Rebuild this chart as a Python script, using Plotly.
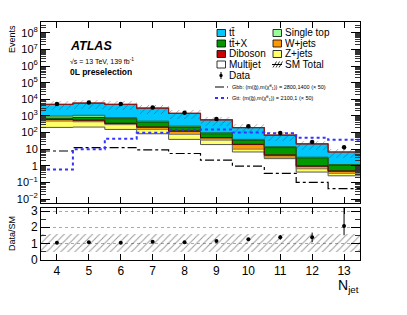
import numpy as np
import plotly.graph_objects as go

# ---------------- data ----------------
njet = [4, 5, 6, 7, 8, 9, 10, 11, 12, 13]
tick_labels_x = ["4", "5", "6", "7", "8", "9", "10", "11", "12", "13"]

multijet = [205, 215, 155, 85, 39, 19, 6.8, 2.7, 0.42, 0.25]
zjets = [285, 235, 145, 70, 39, 16, 3.2, 0.6, 0.24, 0.10]
wjets = [120, 100, 55, 55, 42, 13, 9.0, 1.0, 0.27, 0.12]
diboson = [20, 15, 10, 6, 4, 2, 0.8, 0.2, 0.05, 0.02]
ttx = [120, 265, 325, 214, 91, 35, 15.2, 8.0, 2.02, 0.61]
singletop = [230, 270, 100, 60, 30, 12, 4.0, 1.5, 0.3, 0.1]
ttbar = [4020, 4900, 4210, 2510, 1205, 493, 161, 56, 17.7, 5.6]

data = [5200, 6400, 5300, 3300, 1550, 660, 245, 94, 27, 13]
data_err = [72, 80, 73, 57, 39, 26, 16, 10, 5.2, 3.6]

ratio = [1.04, 1.06, 1.04, 1.10, 1.06, 1.14, 1.25, 1.37, 1.37, 2.08]
ratio_err_up = [0.02, 0.02, 0.02, 0.02, 0.03, 0.05, 0.08, 0.15, 0.3, 1.4]
ratio_err_dn = [0.02, 0.02, 0.02, 0.02, 0.03, 0.05, 0.08, 0.15, 0.3, 0.58]

sm_unc_up = [0.55] * 10
sm_unc_dn = [0.55] * 10

gbb = [7.8, 12.5, 12.5, 9.0, 5.5, 2.2, 0.95, 0.35, 0.10, 0.042]
gtt = [0.6, 10, 43, 98, 150, 155, 100, 90, 49, 37]

# ---------------- style ----------------
FONT = "Liberation Sans"
C_TTBAR = "#00c8ff"
C_TTX = "#009900"
C_ST = "#99ff99"
C_DIB = "#cc0000"
C_W = "#ff9900"
C_Z = "#ffff66"
C_MJ = "#ffffff"

layers = [  # bottom -> top
    ("Multijet", multijet, C_MJ, "#555555"),
    ("Z+jets", zjets, C_Z, "#777777"),
    ("W+jets", wjets, C_W, "#333333"),
    ("Diboson", diboson, C_DIB, "#660000"),
    ("ttX", ttx, C_TTX, "#114411"),
    ("Single top", singletop, C_ST, "#226622"),
    ("ttbar", ttbar, C_TTBAR, "#8b1a1a"),
]

x = np.array(njet, dtype=float)
edges = np.append(x - 0.5, x[-1] + 0.5)

fig = go.Figure()

cum = np.cumsum([np.array(l[1], dtype=float) for l in layers], axis=0)
total = cum[-1]

for i in reversed(range(len(layers))):
    name, vals, col, lcol = layers[i]
    fig.add_trace(go.Bar(x=x, y=cum[i], width=1.0, marker=dict(color=col, line=dict(width=0)),
                         xaxis="x", yaxis="y", showlegend=False, hoverinfo="skip"))
for i in range(len(layers)):
    name, vals, col, lcol = layers[i]
    ystep = np.append(cum[i], cum[i][-1])
    fig.add_trace(go.Scatter(x=edges, y=ystep, mode="lines", line=dict(color=lcol, width=1, shape="hv"),
                             xaxis="x", yaxis="y", showlegend=False, hoverinfo="skip"))

lo = total * (1 - np.array(sm_unc_dn))
hi = total * (1 + np.array(sm_unc_up))
fig.add_trace(go.Bar(x=x, y=hi - lo, base=lo, width=1.0,
                     marker=dict(color="rgba(0,0,0,0)", line=dict(width=0),
                                 pattern=dict(shape="/", fgcolor="#222222", bgcolor="rgba(0,0,0,0)", size=5, solidity=0.15)),
                     xaxis="x", yaxis="y", showlegend=False, hoverinfo="skip"))
fig.add_trace(go.Scatter(x=edges, y=np.append(total, total[-1]), mode="lines",
                         line=dict(color="#8b1a1a", width=1.2, shape="hv"),
                         xaxis="x", yaxis="y", showlegend=False, hoverinfo="skip"))

fig.add_trace(go.Scatter(x=edges, y=np.append(gbb, gbb[-1]), mode="lines",
                         line=dict(color="black", width=1.2, shape="hv", dash="dashdot"),
                         xaxis="x", yaxis="y", showlegend=False, hoverinfo="skip"))
fig.add_trace(go.Scatter(x=edges, y=np.append(gtt, gtt[-1]), mode="lines",
                         line=dict(color="#3333ff", width=2, shape="hv", dash="dot"),
                         xaxis="x", yaxis="y", showlegend=False, hoverinfo="skip"))

fig.add_trace(go.Scatter(x=x, y=data, mode="markers", marker=dict(color="black", size=4.5),
                         error_y=dict(type="data", array=data_err, color="black", thickness=1, width=0),
                         xaxis="x", yaxis="y", showlegend=False, hoverinfo="skip"))

fig.add_trace(go.Bar(x=x, y=np.array(sm_unc_up) + np.array(sm_unc_dn), base=1 - np.array(sm_unc_dn), width=1.0,
                     marker=dict(color="rgba(0,0,0,0)", line=dict(width=0),
                                 pattern=dict(shape="/", fgcolor="#333333", bgcolor="rgba(0,0,0,0)", size=5, solidity=0.2)),
                     xaxis="x2", yaxis="y2", showlegend=False, hoverinfo="skip"))
fig.add_trace(go.Scatter(x=x, y=ratio, mode="markers", marker=dict(color="black", size=4),
                         error_y=dict(type="data", symmetric=False, array=ratio_err_up, arrayminus=ratio_err_dn,
                                      color="black", thickness=1, width=0),
                         xaxis="x2", yaxis="y2", showlegend=False, hoverinfo="skip"))

# ---------------- layout ----------------
# page body has an 8px margin: compensate so the frame sits at the target pixels
OFF = 8
FR_L, FR_T, FR_R, FR_B = 41, 22, 360, 260  # frame in screen pixels
W, H = 407, 315
L = FR_L - OFF
T = FR_T - OFF
PW = FR_R - FR_L
PH = FR_B - FR_T
R = W - L - PW
B = H - T - PH

def px(v):
    return (v - FR_L) / PW

def py(v):
    return (FR_B - v) / PH

main_bot = py(203)
ratio_top = py(208)

ylog_vals = [1e-2, 1e-1, 1, 10, 1e2, 1e3, 1e4, 1e5, 1e6, 1e7, 1e8]
ylog_text = ["10<sup>\u22122</sup>", "10<sup>\u22121</sup>", "1", "10", "10<sup>2</sup>", "10<sup>3</sup>",
             "10<sup>4</sup>", "10<sup>5</sup>", "10<sup>6</sup>", "10<sup>7</sup>", "10<sup>8</sup>"]

axis_common = dict(showline=True, linecolor="black", linewidth=1, mirror="ticks", ticks="inside",
                   tickcolor="black", zeroline=False, showgrid=False)

fig.update_layout(
    width=W, height=H, margin=dict(l=L, r=R, t=T, b=B, autoexpand=False),
    paper_bgcolor="white", plot_bgcolor="white",
    barmode="overlay", bargap=0,
    font=dict(family=FONT, color="black"),
    showlegend=False,
    xaxis=dict(axis_common, domain=[0, 1], range=[3.5, 13.5], anchor="y", showticklabels=False,
               tickvals=njet, ticklen=6, matches="x2"),
    yaxis=dict(axis_common, domain=[main_bot, 1], type="log", range=[-2.24, 8.66], anchor="x",
               tickvals=ylog_vals, ticktext=ylog_text, ticklen=9, tickfont=dict(size=11),
               minor=dict(ticks="inside", ticklen=5, tickcolor="#333333", dtick="D1", showgrid=False)),
    xaxis2=dict(axis_common, domain=[0, 1], range=[3.5, 13.5], anchor="y2",
                tickvals=njet, ticktext=tick_labels_x, ticklen=6, tickfont=dict(size=12)),
    yaxis2=dict(axis_common, domain=[0, ratio_top], range=[-0.04, 3.2], anchor="x2",
                tickvals=[0, 1, 2, 3], ticklen=9, tickfont=dict(size=12),
                showgrid=True, gridcolor="#aaaaaa", griddash="dot", gridwidth=1,
                minor=dict(ticks="inside", ticklen=5, tickcolor="#333333", dtick=0.5)),
)

ann = []
shapes = []

def text(xp, yp, s, size, xanchor="left", yanchor="middle", textangle=0, color="black"):
    ann.append(dict(x=px(xp), y=py(yp), xref="paper", yref="paper", text=s, showarrow=False,
                    xanchor=xanchor, yanchor=yanchor, textangle=textangle,
                    font=dict(size=size, family=FONT, color=color)))

text(12, 23, "Events", 9, xanchor="center", yanchor="top", textangle=-90)
text(12, 234, "Data/SM", 9, xanchor="center", yanchor="middle", textangle=-90)
text(361, 286, "N<sub>jet</sub>", 14, xanchor="right", yanchor="middle")

text(68, 46, "<b><i>ATLAS</i></b>", 12.5)
text(68, 61, "\u221as = 13 TeV, 139 fb<sup>-1</sup>", 7)
text(68, 72, "<b>0L preselection</b>", 8.5)

rows = [33, 43.5, 54, 64.5]
col1 = [("tt\u0304", C_TTBAR, "black"), ("tt\u0304+X", C_TTX, "black"), ("Diboson", C_DIB, "black"),
        ("Multijet", C_MJ, "black")]
col2 = [("Single top", C_ST, "black"), ("W+jets", C_W, "black"), ("Z+jets", C_Z, "black")]

def box(x0, yc, fill, line):
    shapes.append(dict(type="rect", xref="paper", yref="paper", x0=px(x0), x1=px(x0 + 8.5),
                       y0=py(yc + 3.5), y1=py(yc - 3.5), fillcolor=fill, line=dict(color=line, width=0.8)))

for (lab, c, lc), yc in zip(col1, rows):
    box(217, yc, c, lc)
    text(227, yc, lab, 10)
for (lab, c, lc), yc in zip(col2, rows[:3]):
    box(273, yc, c, lc)
    text(283, yc, lab, 10)
yc = rows[3]
for k in range(3):
    xo = 273 + k * 3
    shapes.append(dict(type="line", xref="paper", yref="paper", x0=px(xo), x1=px(xo + 3.5),
                       y0=py(yc + 3), y1=py(yc - 3), line=dict(color="black", width=0.8)))
shapes.append(dict(type="line", xref="paper", yref="paper", x0=px(272), x1=px(282),
                   y0=py(yc), y1=py(yc), line=dict(color="black", width=1)))
text(283, yc, "SM Total", 10)

yd = 75.5
shapes.append(dict(type="line", xref="paper", yref="paper", x0=px(221), x1=px(221),
                   y0=py(yd + 3.5), y1=py(yd - 3.5), line=dict(color="black", width=1)))
shapes.append(dict(type="circle", xref="paper", yref="paper", x0=px(219.3), x1=px(222.7),
                   y0=py(yd + 1.7), y1=py(yd - 1.7), fillcolor="black", line=dict(color="black", width=0)))
text(227, yd, "Data", 10)

yg = 87
shapes.append(dict(type="line", xref="paper", yref="paper", x0=px(215), x1=px(228),
                   y0=py(yg), y1=py(yg), line=dict(color="black", width=1.2, dash="dashdot")))
text(230, yg, "Gbb: (m(g\u0303),m(\u03c7\u0303<sup>0</sup><sub>1</sub>)) = 2800,1400 (\u00d7 50)", 5.5)
yt = 98
shapes.append(dict(type="line", xref="paper", yref="paper", x0=px(215), x1=px(228),
                   y0=py(yt), y1=py(yt), line=dict(color="#3333ff", width=2, dash="dot")))
text(230, yt, "Gtt: (m(g\u0303),m(\u03c7\u0303<sup>0</sup><sub>1</sub>)) = 2100,1 (\u00d7 50)", 5.5)

fig.update_layout(annotations=ann, shapes=shapes)
fig.write_html("out.html")
